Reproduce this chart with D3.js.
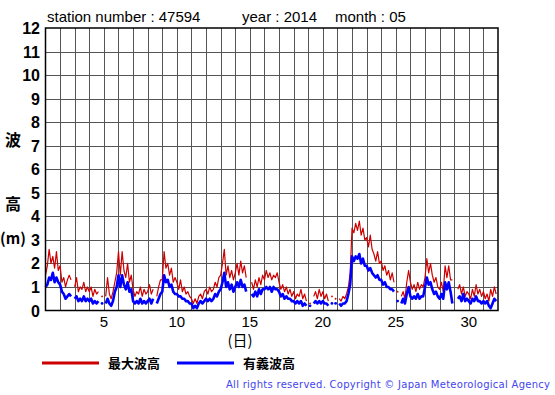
<!DOCTYPE html>
<html>
<head>
<meta charset="utf-8">
<script src="https://cdn.jsdelivr.net/npm/d3@7"></script>
<style>
  body { margin: 0; background: #fff; }
  svg { display: block; }
</style>
</head>
<body>
<div id="chart"></div>
<script>
// station 47594, 2014-05, wave heights (m), 3-hourly, 8 samples per day
const stationNo = '47594';
const year = '2014';
const month = '05';
const samplesPerDay = 8;

const xTicks = [5, 10, 15, 20, 25, 30];
const yTicks = d3.range(0, 13);

// 最大波高 (max wave height)
const maxWave = [
  1.5, 1.9, 2.6, 2.0, 2.3, 1.8, 2.5, 1.7,   // 1
  1.9, 1.2, 1.4, 1.0, 1.3, 1.5, 1.3, null,  // 2
  1.0, 1.4, 0.8, 1.0, 0.9, 1.2, 0.8, 1.0,   // 3
  0.8, 1.0, 0.6, 0.9, 0.7, 0.8, null, 0.6,  // 4
  null, 0.6, 1.4, 0.7, 0.5, 0.8, 1.2, 1.6,  // 5
  2.5, 1.5, 2.5, 1.7, 1.4, 2.0, 1.2, 1.5,   // 6
  0.9, 0.6, 0.8, 0.7, 1.0, 0.6, 0.9, 0.7,   // 7
  0.8, 1.1, 0.7, 0.9, null, 0.6, 1.0, 1.3,  // 8
  1.3, 2.5, 1.8, 2.0, 1.5, 1.8, 1.2, 1.4,   // 9
  1.2, 0.9, 1.3, 0.8, 1.0, 0.7, 0.8, 0.6,   // 10
  0.5, 0.3, 0.5, 0.3, 0.6, 0.7, 0.5, 0.8,   // 11
  0.9, 0.7, 1.0, 0.8, 0.9, 1.2, 1.0, 1.4,   // 12
  1.5, 2.0, 2.6, 1.5, 1.9, 1.4, 1.7, 1.3,   // 13
  1.6, 2.0, 1.5, 2.1, 1.6, 1.9, 1.4, null,  // 14
  null, 1.2, 0.9, 1.3, 1.0, 1.4, 1.1, 1.5,  // 15
  1.3, 1.7, 1.4, 1.6, 1.3, 1.5, 1.4, 1.6,   // 16
  1.2, 0.9, 1.1, 0.8, 1.0, 0.7, 0.9, 0.6,   // 17
  0.8, 0.5, 0.7, 0.6, 0.9, 0.5, 0.7, 0.4,   // 18
  null, 0.3, null, 0.6, 0.8, 0.5, 0.9, 0.6, // 19
  0.8, 0.5, 0.7, 0.4, null, 0.6, null, 0.5, // 20
  null, 0.5, 0.4, 0.6, 0.5, 0.7, 1.0, 1.6,  // 21
  3.5, 3.3, 3.7, 3.4, 3.8, 3.2, 3.5, 3.0,   // 22
  3.1, 2.7, 3.2, 2.6, 2.4, 2.1, 2.5, 2.0,   // 23
  2.1, 1.7, 1.9, 1.5, 1.7, 1.3, 1.6, 1.2,   // 24
  null, 0.8, null, 0.6, 0.8, 0.5, 1.2, 1.7, // 25
  1.2, 0.9, 1.1, 0.8, 1.2, 0.9, 1.1, 1.0,   // 26
  1.4, 2.2, 1.6, 2.0, 1.5, 1.2, 1.4, 1.0,   // 27
  0.9, 1.2, 0.8, 1.9, 1.4, 1.9, 1.3, 1.3,   // 28
  null, null, 0.9, 1.1, 0.7, 1.0, 0.6, 0.8, // 29
  0.7, 0.5, 0.9, 0.6, 1.1, 0.7, 0.9, 0.6,   // 30
  0.8, 0.5, 0.7, 0.4, 0.9, 0.6, 1.0, 0.7    // 31
];

// 有義波高 (significant wave height)
const sigWave = [
  1.0, 1.1, 1.4, 1.3, 1.6, 1.2, 1.4, 1.2,   // 1
  1.1, 0.8, 0.7, 0.5, 0.6, 0.7, 0.6, null,  // 2
  0.5, 0.6, 0.4, 0.5, 0.4, 0.6, 0.4, 0.5,   // 3
  0.4, 0.5, 0.3, 0.4, 0.3, 0.4, null, 0.3,  // 4
  null, 0.3, 0.5, 0.3, 0.2, 0.4, 0.8, 1.0,  // 5
  1.5, 1.0, 1.5, 1.1, 0.9, 1.2, 0.8, 0.9,   // 6
  0.4, 0.3, 0.4, 0.3, 0.5, 0.3, 0.4, 0.3,   // 7
  0.4, 0.5, 0.3, 0.5, null, 0.3, 0.5, 0.7,  // 8
  0.8, 1.5, 1.2, 1.3, 1.0, 1.1, 0.8, 0.7,   // 9
  0.7, 0.6, 0.6, 0.5, 0.5, 0.4, 0.4, 0.3,   // 10
  0.3, 0.1, 0.2, 0.1, 0.3, 0.4, 0.3, 0.4,   // 11
  0.5, 0.4, 0.5, 0.4, 0.5, 0.7, 0.6, 0.8,   // 12
  0.9, 1.2, 1.6, 1.0, 1.2, 0.9, 1.1, 0.8,   // 13
  1.0, 1.2, 1.0, 1.3, 1.0, 1.1, 0.8, null,  // 14
  null, 0.7, 0.6, 0.8, 0.6, 0.9, 0.7, 0.9,  // 15
  0.9, 1.0, 0.9, 1.0, 0.8, 1.0, 0.9, 0.9,   // 16
  0.8, 0.6, 0.7, 0.5, 0.6, 0.5, 0.5, 0.4,   // 17
  0.4, 0.3, 0.4, 0.3, 0.4, 0.2, 0.3, 0.2,   // 18
  null, 0.2, null, 0.3, 0.4, 0.3, 0.4, 0.3, // 19
  0.4, 0.3, 0.3, 0.2, null, 0.3, null, 0.3, // 20
  null, 0.3, 0.2, 0.3, 0.3, 0.4, 0.7, 1.1,  // 21
  2.3, 2.1, 2.3, 2.2, 2.4, 2.0, 2.2, 1.9,   // 22
  1.9, 1.7, 1.8, 1.6, 1.5, 1.4, 1.5, 1.3,   // 23
  1.3, 1.1, 1.2, 1.0, 1.0, 0.9, 0.9, 0.8,   // 24
  null, 0.4, null, 0.3, 0.5, 0.3, 0.7, 1.0, // 25
  0.6, 0.5, 0.6, 0.5, 0.7, 0.5, 0.6, 0.6,   // 26
  1.0, 1.4, 1.1, 1.2, 0.9, 0.7, 0.8, 0.6,   // 27
  0.5, 0.7, 0.5, 1.2, 0.9, 1.2, 0.8, 0.3,   // 28
  null, null, 0.5, 0.6, 0.4, 0.7, 0.4, 0.5, // 29
  0.4, 0.3, 0.5, 0.4, 0.6, 0.4, 0.4, 0.3,   // 30
  0.4, 0.3, 0.4, 0.2, 0.1, 0.3, 0.5, 0.4    // 31
];

const width = 555, height = 395;
const svg = d3.select('#chart').append('svg')
  .attr('width', width)
  .attr('height', height);

const x = d3.scaleLinear().domain([1, 32]).range([45.5, 498]);
const y = d3.scaleLinear().domain([0, 12]).range([310.5, 28]);

const font = '"Liberation Sans", Arial, Helvetica, sans-serif';
const cjk = '"Noto Sans CJK JP", "Noto Sans CJK SC", sans-serif';

// grid
const grid = svg.append('g').attr('stroke', '#555').attr('stroke-width', 1);
grid.selectAll('.vg').data(d3.range(2, 32)).enter().append('line')
  .attr('x1', d => Math.round(x(d)) + 0.5).attr('x2', d => Math.round(x(d)) + 0.5)
  .attr('y1', y(12)).attr('y2', y(0));
grid.selectAll('.hg').data(yTicks.slice(1, -1)).enter().append('line')
  .attr('y1', d => Math.round(y(d)) + 0.5).attr('y2', d => Math.round(y(d)) + 0.5)
  .attr('x1', x(1)).attr('x2', x(32));

// series
function toPoints(arr) {
  return arr.map((v, i) => ({ t: 1 + i / samplesPerDay, v: v }));
}

function drawSeries(arr, color, w, r) {
  const pts = toPoints(arr);
  const line = d3.line()
    .defined(d => d.v != null)
    .x(d => x(d.t))
    .y(d => y(d.v));
  svg.append('path')
    .datum(pts)
    .attr('fill', 'none')
    .attr('stroke', color)
    .attr('stroke-width', w)
    .attr('stroke-linejoin', 'round')
    .attr('d', line);
  // isolated samples show as dots
  const lone = pts.filter((d, i) => d.v != null &&
    (i === 0 || pts[i - 1].v == null) && (i === pts.length - 1 || pts[i + 1].v == null));
  svg.selectAll(null).data(lone).enter().append('circle')
    .attr('cx', d => x(d.t)).attr('cy', d => y(d.v)).attr('r', r)
    .attr('fill', color);
}

drawSeries(maxWave, '#cc0000', 1.2, 0.9);
drawSeries(sigWave, '#0000ff', 2.6, 1.4);

// frame
svg.append('rect')
  .attr('x', x(1)).attr('y', y(12))
  .attr('width', x(32) - x(1)).attr('height', y(0) - y(12))
  .attr('fill', 'none').attr('stroke', '#000').attr('stroke-width', 1.5);

// y tick labels
svg.append('g').selectAll('text').data(yTicks).enter().append('text')
  .attr('x', 40).attr('y', d => y(d) + 6)
  .attr('text-anchor', 'end')
  .attr('font-family', font).attr('font-weight', 'bold').attr('font-size', 16)
  .text(d => d);

// x tick labels
svg.append('g').selectAll('text').data(xTicks).enter().append('text')
  .attr('x', d => x(d)).attr('y', 327)
  .attr('text-anchor', 'middle')
  .attr('font-family', font).attr('font-size', 15)
  .text(d => d);

// axis titles
svg.append('text').attr('x', 240).attr('y', 346).attr('text-anchor', 'middle')
  .attr('font-family', cjk).attr('font-size', 15).text('(日)');
const yTitle = [['波', 146], ['高', 210]];
svg.selectAll(null).data(yTitle).enter().append('text')
  .attr('x', 13).attr('y', d => d[1]).attr('text-anchor', 'middle')
  .attr('font-family', cjk).attr('font-weight', 'bold').attr('font-size', 16)
  .text(d => d[0]);
svg.append('text').attr('x', 13).attr('y', 244).attr('text-anchor', 'middle')
  .attr('font-family', cjk).attr('font-weight', 'bold').attr('font-size', 15)
  .text('(m)');

// title
const titleParts = [
  ['station number : ' + stationNo, 47],
  ['year : ' + year, 242],
  ['month : ' + month, 335]
];
svg.selectAll(null).data(titleParts).enter().append('text')
  .attr('x', d => d[1]).attr('y', 22)
  .attr('font-family', font).attr('font-size', 15)
  .text(d => d[0]);

// legend
const legend = [
  { label: '最大波高', color: '#cc0000', x: 42 },
  { label: '有義波高', color: '#0000ff', x: 177 }
];
const lg = svg.append('g').selectAll('g').data(legend).enter().append('g');
lg.append('line')
  .attr('x1', d => d.x).attr('x2', d => d.x + 57)
  .attr('y1', 363).attr('y2', 363)
  .attr('stroke', d => d.color).attr('stroke-width', 3);
lg.append('text')
  .attr('x', d => d.x + 66).attr('y', 368)
  .attr('font-family', cjk).attr('font-weight', 'bold').attr('font-size', 13)
  .text(d => d.label);

// copyright
svg.append('text')
  .attr('x', 226).attr('y', 388)
  .attr('font-family', '"DejaVu Sans", Verdana, sans-serif').attr('font-size', 10)
  .attr('fill', '#4444ee')
  .attr('textLength', 324).attr('lengthAdjust', 'spacing')
  .text('All rights reserved. Copyright © Japan Meteorological Agency');
</script>
</body>
</html>
